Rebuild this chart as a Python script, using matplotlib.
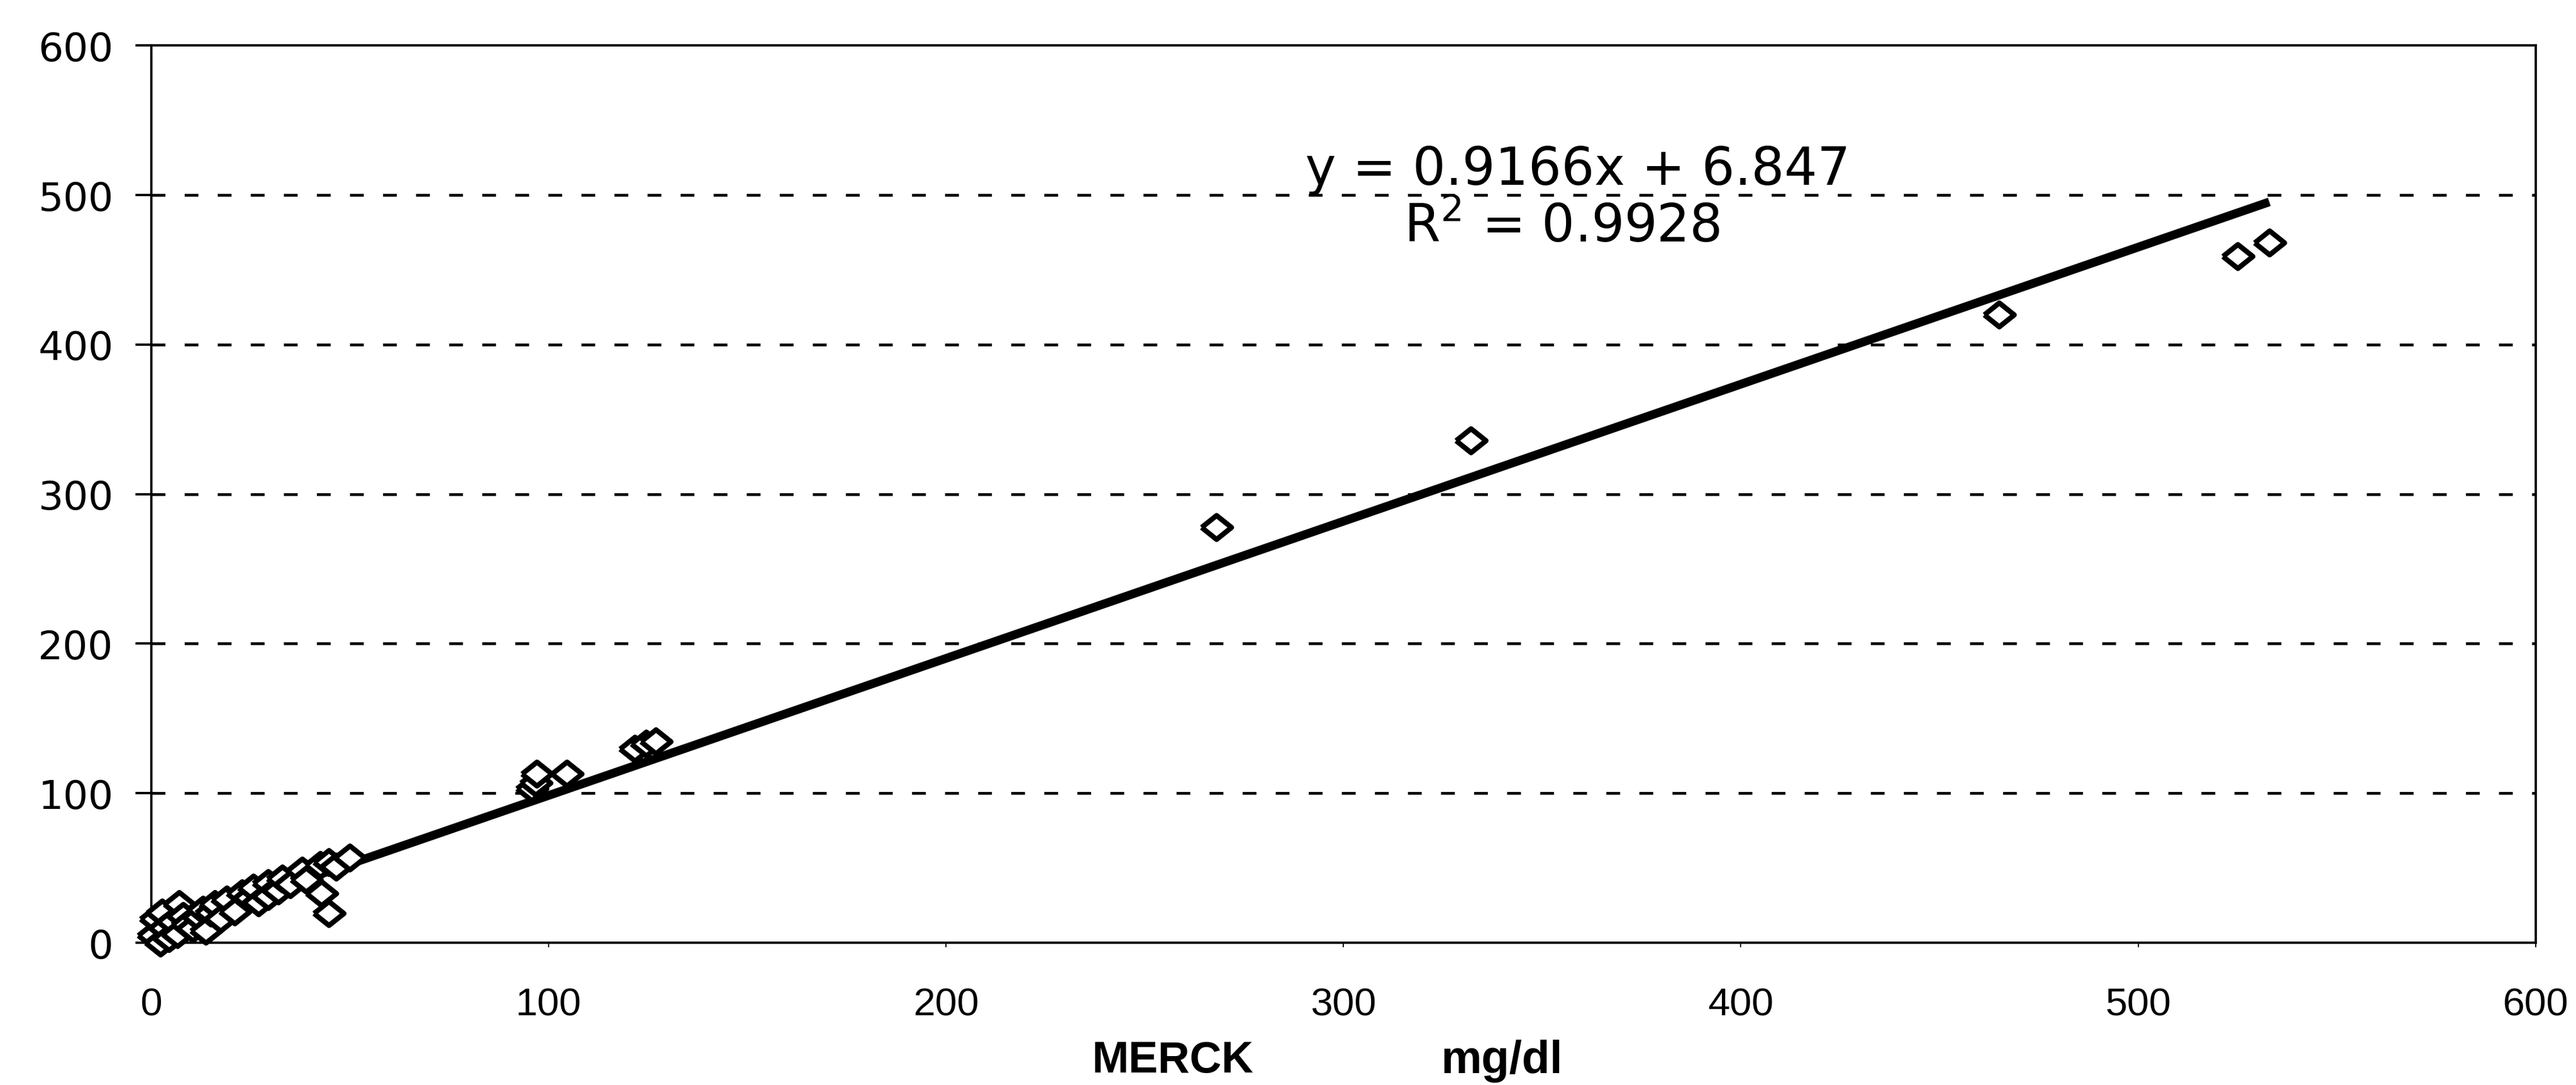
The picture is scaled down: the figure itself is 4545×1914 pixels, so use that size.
import numpy as np
import matplotlib.pyplot as plt

# MERCK reference (mg/dl) vs. test method
merck = [0.5, 1, 2.3, 2.8, 3.5, 4.5, 5.5, 6.6, 7, 8, 9, 10.4, 12, 13, 13.7,
         15, 16, 17.5, 19, 21, 22.8, 24.7, 25.7, 27, 29.4, 29.4, 32, 33, 35,
         38, 39, 42.5, 42.8, 44.7, 44.7, 46.5, 50,
         95.7, 96.7, 97, 104.6, 121.7, 124.5, 127,
         268, 332, 465, 525, 533]
method = [5, 16, 0, 20, 10, 3, 14, 5.7, 26, 18, 12, 9.5, 17, 22, 8,
          20, 26, 16, 29, 21, 33, 30, 37, 27, 40, 31, 35, 43, 39,
          48, 42, 52, 33, 19.6, 54, 51, 57,
          103, 107, 113, 113, 129.5, 133, 134.5,
          278, 336, 420, 459, 468]

slope = 0.9166
intercept = 6.847
r2 = 0.9928

x_ticks = [0, 100, 200, 300, 400, 500, 600]
y_ticks = [0, 100, 200, 300, 400, 500, 600]

fig = plt.figure(figsize=(45.45, 19.15), dpi=100)
ax = fig.add_axes([0.0587, 0.131, 0.9256, 0.8266])

# dashed horizontal gridlines
for yv in y_ticks[1:-1]:
    ax.axhline(yv, color='black', lw=3.5, linestyle=(0, (5, 7)), zorder=1)

# trendline
fit_x = np.array([0, max(merck)])
ax.plot(fit_x, slope * fit_x + intercept, color='black', lw=11, zorder=2,
        solid_capstyle='butt')

diamond = [(-1, 0), (0, 0.8), (1, 0), (0, -0.8), (-1, 0)]
ax.plot(merck, method, linestyle='none', marker=diamond, markersize=38,
        markerfacecolor='white', markeredgecolor='black', markeredgewidth=6.5,
        zorder=3, clip_on=False)

ax.set_xlim(0, 600)
ax.set_ylim(0, 600)
ax.set_xticks(x_ticks)
ax.set_yticks(y_ticks)

for side in ax.spines.values():
    side.set_linewidth(3)
    side.set_color('black')

ax.tick_params(axis='y', direction='out', length=20, width=3, pad=28)
ax.tick_params(axis='x', direction='out', length=6, width=1.5, pad=50)
for lab in ax.get_yticklabels():
    lab.set_fontfamily('DejaVu Sans')
    lab.set_fontsize(50)
for lab in ax.get_xticklabels():
    lab.set_fontfamily('Liberation Sans')
    lab.set_fontsize(50)

# axis title: two words spaced apart under the x axis
fig.text(0.4554, 0.0227, 'MERCK', ha='center', va='center',
         fontfamily='Liberation Sans', fontsize=56, fontweight='bold')
fig.text(0.583, 0.0227, 'mg/dl', ha='center', va='center',
         fontfamily='Liberation Sans', fontsize=58, fontweight='bold')

ax.text(359, 517, 'y = %.4fx + %.3f' % (slope, intercept), ha='center',
        va='center', fontfamily='DejaVu Sans', fontsize=66)
ax.text(355, 479, '$\\mathregular{R^2}$ = %.4f' % r2, ha='center',
        va='center', fontfamily='DejaVu Sans', fontsize=66)

fig.savefig('out.png', dpi=100, facecolor='white')
